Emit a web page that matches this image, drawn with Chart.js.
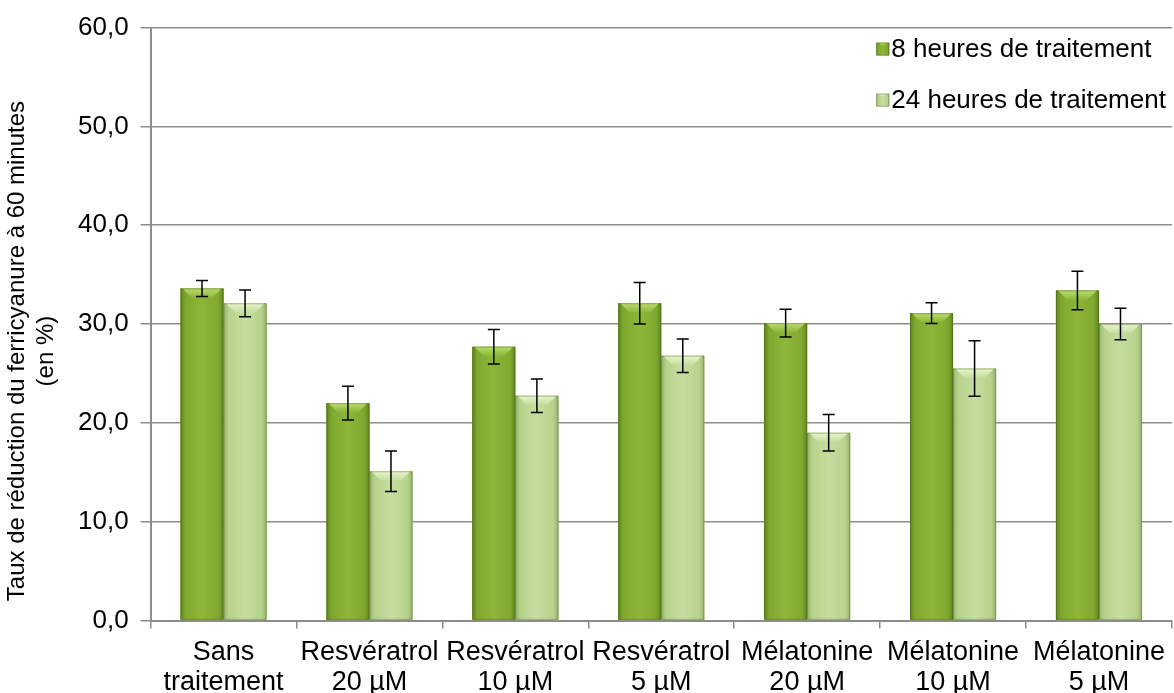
<!DOCTYPE html>
<html>
<head>
<meta charset="utf-8">
<script src="https://cdn.jsdelivr.net/npm/chart.js@4"></script>
<style>
    html, body { margin: 0; padding: 0; background: #fff; }
    #wrap { width: 1174px; height: 693px; }
</style>
</head>
<body>
<div id="wrap"><canvas id="reduction-chart" width="1174" height="693"></canvas></div>
<script>
(function () {
    "use strict";

    // Data
    var categories = [
        ['Sans', 'traitement'],
        ['Resvératrol', '20 µM'],
        ['Resvératrol', '10 µM'],
        ['Resvératrol', '5 µM'],
        ['Mélatonine', '20 µM'],
        ['Mélatonine', '10 µM'],
        ['Mélatonine', '5 µM']
    ];
    var seriesNames = ['8 heures de traitement', '24 heures de traitement'];
    var values8h = [33.6, 22.0, 27.7, 32.1, 30.1, 31.1, 33.4];
    var errors8h = [0.8, 1.7, 1.75, 2.1, 1.4, 1.05, 1.95];
    var values24h = [32.1, 15.1, 22.75, 26.8, 19.0, 25.5, 30.0];
    var errors24h = [1.35, 2.05, 1.7, 1.7, 1.85, 2.8, 1.6];
    var yMin = 0, yMax = 60, yStep = 10;
    var yTitle = ['Taux de réduction du ferricyanure à 60 minutes', '(en %)'];

    var FONT = '"Liberation Sans", Arial, sans-serif';

    // colours: edge, middle, bevel
    var shades = [
        { edge: '#5e861c', mid: '#8cb738', light: '#bcdc72', flat: '#80a82f' },
        { edge: '#97b46e', mid: '#c5dea1', light: '#e8f5cb', flat: '#b7d28c' }
    ];

    function fillBar(ctx, left, top, w, h, shade) {
        var g = ctx.createLinearGradient(left, 0, left + w, 0);
        g.addColorStop(0, shade.edge);
        g.addColorStop(0.12, shade.flat);
        g.addColorStop(0.5, shade.mid);
        g.addColorStop(0.88, shade.flat);
        g.addColorStop(1, shade.edge);
        ctx.fillStyle = g;
        ctx.fillRect(left, top, w, h);

        // top bevel
        var b = Math.min(9, h / 2, w / 4);
        var gv = ctx.createLinearGradient(0, top, 0, top + b);
        gv.addColorStop(0, shade.light);
        gv.addColorStop(1, shade.mid);
        ctx.fillStyle = gv;
        ctx.beginPath();
        ctx.moveTo(left + 2, top);
        ctx.lineTo(left + w - 2, top);
        ctx.lineTo(left + w - b - 2, top + b);
        ctx.lineTo(left + b + 2, top + b);
        ctx.closePath();
        ctx.fill();

        ctx.strokeStyle = 'rgba(60,80,20,0.35)';
        ctx.lineWidth = 1;
        ctx.strokeRect(left + 0.5, top + 0.5, w - 1, h - 1);
    }

    // Shaded bars
    var barShading = {
        id: 'barShading',
        afterDatasetDraw: function (chart, args) {
            var ctx = chart.ctx;
            var shade = shades[args.index];
            ctx.save();
            args.meta.data.forEach(function (bar) {
                var left = bar.x - bar.width / 2;
                fillBar(ctx, left, bar.y, bar.width, bar.base - bar.y, shade);
            });
            ctx.restore();
        }
    };

    // Error bars
    var errorBars = {
        id: 'errorBars',
        afterDatasetsDraw: function (chart) {
            var ctx = chart.ctx;
            var yScale = chart.scales.y;
            var errs = [errors8h, errors24h];
            ctx.save();
            ctx.strokeStyle = '#000';
            ctx.lineWidth = 1.5;
            chart.data.datasets.forEach(function (ds, di) {
                chart.getDatasetMeta(di).data.forEach(function (bar, i) {
                    var yt = yScale.getPixelForValue(ds.data[i] + errs[di][i]);
                    var yb = yScale.getPixelForValue(ds.data[i] - errs[di][i]);
                    var x = bar.x;
                    ctx.beginPath();
                    ctx.moveTo(x, yt); ctx.lineTo(x, yb);
                    ctx.moveTo(x - 6, yt); ctx.lineTo(x + 6, yt);
                    ctx.moveTo(x - 6, yb); ctx.lineTo(x + 6, yb);
                    ctx.stroke();
                });
            });
            ctx.restore();
        }
    };

    // Legend in the top right corner of the plot
    var cornerLegend = {
        id: 'cornerLegend',
        afterDraw: function (chart) {
            var ctx = chart.ctx;
            var area = chart.chartArea;
            ctx.save();
            ctx.font = '26px ' + FONT;
            ctx.textBaseline = 'middle';
            var widths = seriesNames.map(function (s) { return ctx.measureText(s).width; });
            var textX = area.right - 6 - Math.max.apply(null, widths);
            seriesNames.forEach(function (name, i) {
                var y = area.top + 21 + i * 51;
                fillBar(ctx, textX - 15, y - 6, 13, 13, shades[i]);
                ctx.fillStyle = '#000';
                ctx.fillText(name, textX, y + 1);
            });
            ctx.restore();
        }
    };

    // Y axis title, two lines, a bit below the middle of the plot
    var axisTitle = {
        id: 'axisTitle',
        afterDraw: function (chart) {
            var ctx = chart.ctx;
            var area = chart.chartArea;
            ctx.save();
            ctx.font = '24px ' + FONT;
            ctx.fillStyle = '#000';
            ctx.textAlign = 'center';
            ctx.textBaseline = 'middle';
            ctx.translate(17, (area.top + area.bottom) / 2 + 27);
            ctx.rotate(-Math.PI / 2);
            ctx.fillText(yTitle[0], 0, 0);
            ctx.fillText(yTitle[1], 0, 29);
            ctx.restore();
        }
    };

    var ctx1 = document.getElementById('reduction-chart').getContext('2d');
    var myChart1 = new Chart(ctx1, {
        type: 'bar',
        data: {
            labels: categories,
            datasets: [{
                label: seriesNames[0],
                data: values8h,
                backgroundColor: shades[0].flat
            },
            {
                label: seriesNames[1],
                data: values24h,
                backgroundColor: shades[1].flat
            }]
        },
        options: {
            responsive: false,
            animation: false,
            devicePixelRatio: 1,
            categoryPercentage: 0.59,
            barPercentage: 1,
            layout: { padding: { left: 66, top: 9, right: 0, bottom: -14 } },
            plugins: {
                legend: { display: false },
                tooltip: { enabled: false }
            },
            scales: {
                x: {
                    grid: {
                        offset: true,
                        drawOnChartArea: false,
                        color: '#8c8c8c',
                        lineWidth: 1.5,
                        tickLength: 8
                    },
                    border: { color: '#8c8c8c', width: 2 },
                    ticks: {
                        color: '#000',
                        font: { family: FONT, size: 27, lineHeight: 1.12 },
                        padding: 9,
                        maxRotation: 0,
                        autoSkip: false
                    }
                },
                y: {
                    min: yMin,
                    max: yMax,
                    grid: {
                        color: '#8c8c8c',
                        lineWidth: 1.5,
                        tickLength: 10
                    },
                    border: { color: '#8c8c8c', width: 2 },
                    ticks: {
                        stepSize: yStep,
                        color: '#000',
                        font: { family: FONT, size: 26 },
                        padding: 12,
                        callback: function (v) { return v.toFixed(1).replace('.', ','); }
                    }
                }
            }
        },
        plugins: [barShading, errorBars, cornerLegend, axisTitle]
    });

})();
</script>
</body>
</html>
